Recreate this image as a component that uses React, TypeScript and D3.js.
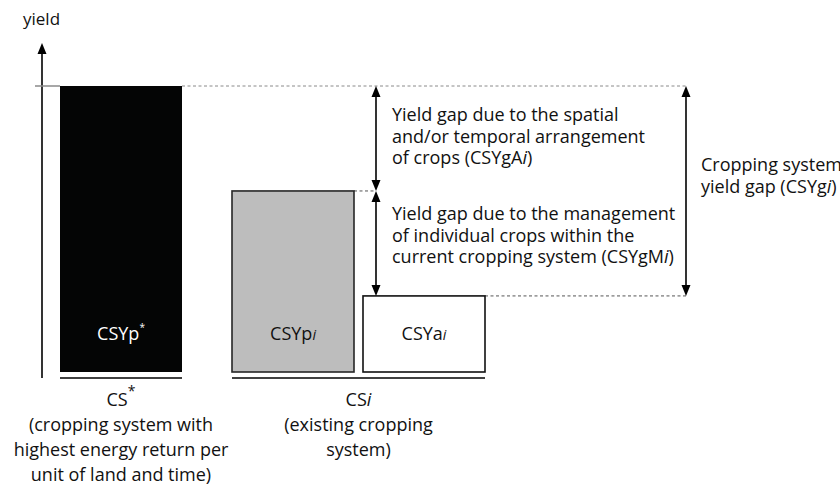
import React from 'react';
import * as d3 from 'd3';

// bars: label, group, value (relative yield, top of black bar = 100)
const barKeys = ['CSYp*', 'CSYpi', 'CSYai'];
const barGroups = ['CS*', 'CSi', 'CSi'];
const barValues = [100, 63.3, 26.6];
const barFills = ['#040505', '#bdbdbd', '#ffffff'];
const barStrokes = ['none', '#262626', '#111111'];

const groupKeys = ['CS*', 'CSi'];
const groupNotes = [
  ['(cropping system with', 'highest energy return per', 'unit of land and time)'],
  ['(existing cropping', 'system)'],
];

const gapArrangementLines = ['Yield gap due to the spatial', 'and/or temporal arrangement'];
const gapManagementLines = ['Yield gap due to the management', 'of individual crops within the'];
const gapTotalLines = ['Cropping system'];

const W = 840;
const H = 486;
const FONT = '"Open Sans", sans-serif';
const FS = 18;

const App = () => {
  const baseY = 372;
  const y = d3.scaleLinear().domain([0, 100]).range([baseY, 86]);
  const x = d3.scaleBand<string>()
    .domain(barKeys)
    .range([60, 444])
    .paddingInner(9 / 131)
    .paddingOuter(0);
  const groupShift = 41;
  const bw = x.bandwidth();
  const barX = (i: number) => (x(barKeys[i]) as number) + (barGroups[i] === 'CS*' ? 0 : groupShift);

  const groupExtent = (g: string) => {
    const idx = barKeys.map((_, i) => i).filter(i => barGroups[i] === g);
    const x0 = d3.min(idx, i => barX(i)) as number;
    const x1 = d3.max(idx, i => barX(i) + bw) as number;
    return [x0, x1];
  };

  const axisX = 42;
  const axisTop = y(115);
  const arrowX = barX(2) + bw - 109; // arrow between the two gap levels
  const rightArrowX = 686;
  const topY = y(barValues[0]);
  const midY = y(barValues[1]);
  const lowY = y(barValues[2]);

  const head = (px: number, py: number, dir: number) =>
    `M${px},${py} L${px - 4.5},${py + dir * 11} L${px + 4.5},${py + dir * 11} Z`;

  const dArrow = (px: number, y0: number, y1: number) => (
    <g>
      <line x1={px} x2={px} y1={y0 + 6} y2={y1 - 6} stroke="#000" strokeWidth={1.6} />
      <path d={head(px, y0, 1)} fill="#000" />
      <path d={head(px, y1, -1)} fill="#000" />
    </g>
  );

  return (
    <svg width={W} height={H} style={{ position: 'absolute', left: 0, top: 0, background: '#fff' }}
      fontFamily={FONT} fontSize={FS} fill="#111">
      {/* y axis */}
      <text x={23} y={25} fontSize={17}>yield</text>
      <line x1={axisX} x2={axisX} y1={378} y2={axisTop + 8} stroke="#000" strokeWidth={1.6} />
      <path d={head(axisX, axisTop, 1)} fill="#000" />
      <line x1={35} x2={barX(0)} y1={topY} y2={topY} stroke="#8a8a8a" strokeWidth={1.5} />

      {/* dashed reference lines */}
      <line x1={barX(0) + bw} x2={rightArrowX} y1={topY} y2={topY} stroke="#8a8a8a" strokeDasharray="3,2.5" />
      <line x1={barX(1) + bw} x2={arrowX} y1={midY} y2={midY} stroke="#555" strokeDasharray="3,2.5" />
      <line x1={barX(2) + bw} x2={rightArrowX} y1={lowY} y2={lowY} stroke="#555" strokeDasharray="3,2.5" />

      {/* bars */}
      {barKeys.map((k, i) => (
        <rect key={k} x={barX(i)} y={y(barValues[i])} width={bw} height={baseY - y(barValues[i])}
          fill={barFills[i]} stroke={barStrokes[i]} strokeWidth={1.6} />
      ))}
      <text x={barX(0) + bw / 2} y={340} textAnchor="middle" fill="#fff">
        CSYp<tspan fontSize={10} dy={-9}>*</tspan>
      </text>
      <text x={barX(1) + bw / 2} y={340} textAnchor="middle">
        CSYp<tspan fontStyle="italic" fontSize={14}>i</tspan>
      </text>
      <text x={barX(2) + bw / 2} y={340} textAnchor="middle">
        CSYa<tspan fontStyle="italic" fontSize={14}>i</tspan>
      </text>

      {/* group underlines and labels */}
      {groupKeys.map((g, gi) => {
        const [x0, x1] = groupExtent(g);
        const cx = (x0 + x1) / 2;
        return (
          <g key={g}>
            <line x1={x0} x2={x1} y1={378} y2={378} stroke="#000" strokeWidth={1.6} />
            <text x={cx} y={406} textAnchor="middle" fontSize={18}>
              CS{g === 'CS*'
                ? <tspan fontSize={14} dy={-10}>*</tspan>
                : <tspan fontStyle="italic">i</tspan>}
            </text>
            {groupNotes[gi].map((t, li) => (
              <text key={li} x={cx} y={431 + li * 25} textAnchor="middle">{t}</text>
            ))}
          </g>
        );
      })}

      {/* gap arrows */}
      {dArrow(arrowX, topY, midY)}
      {dArrow(arrowX, midY, lowY)}
      {dArrow(rightArrowX, topY, lowY)}

      {/* gap texts */}
      {gapArrangementLines.map((t, li) => (
        <text key={t} x={392} y={121 + li * 21.5}>{t}</text>
      ))}
      <text x={392} y={164}>of crops (CSYgA<tspan fontStyle="italic">i</tspan>)</text>
      {gapManagementLines.map((t, li) => (
        <text key={t} x={392} y={220 + li * 21.5}>{t}</text>
      ))}
      <text x={392} y={263}>current cropping system (CSYgM<tspan fontStyle="italic">i</tspan>)</text>
      {gapTotalLines.map(t => (
        <text key={t} x={701} y={171}>{t}</text>
      ))}
      <text x={701} y={193}>yield gap (CSYg<tspan fontStyle="italic">i</tspan>)</text>
    </svg>
  );
};

export default App;
